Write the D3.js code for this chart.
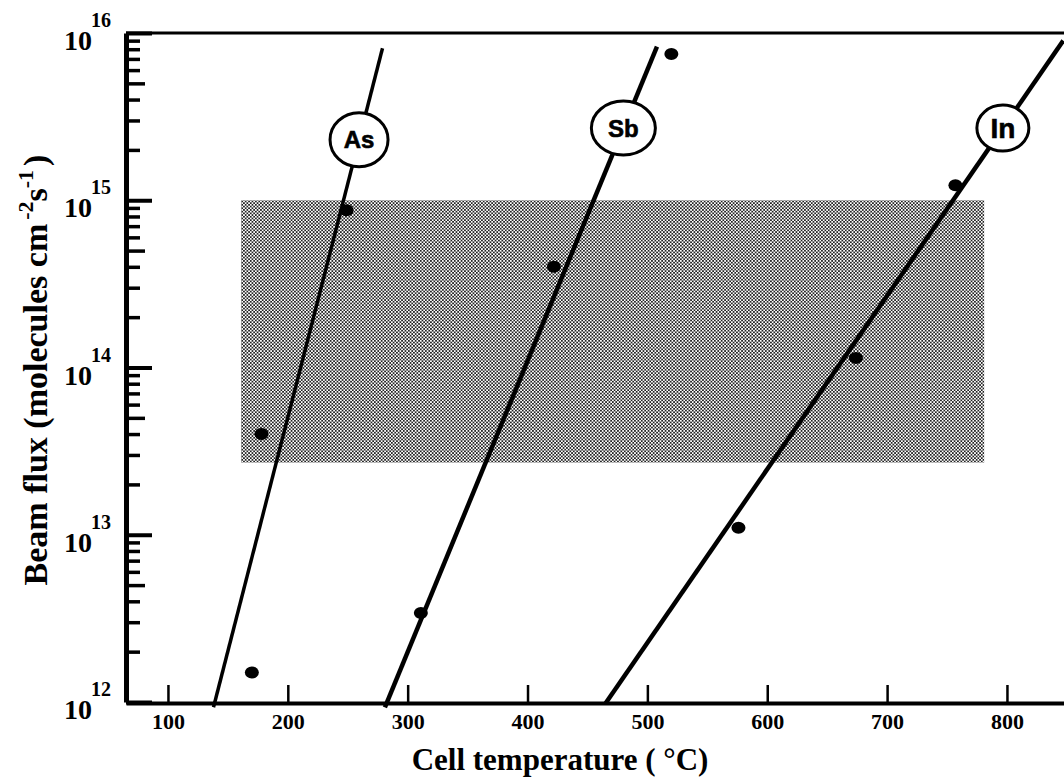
<!DOCTYPE html>
<html>
<head>
<meta charset="utf-8">
<script src="https://cdn.jsdelivr.net/npm/d3@7"></script>
<style>
  body { margin: 0; background: #fff; }
  .serif { font-family: "Liberation Serif", "Times New Roman", serif; font-weight: bold; }
  .tag { font-family: "Liberation Sans", Arial, sans-serif; font-weight: bold; }
</style>
</head>
<body>
<div id="chart"></div>
<script>
// axis ticks
var xTicks = [100, 200, 300, 400, 500, 600, 700, 800];
var yMajor = [1e12, 1e13, 1e14, 1e15, 1e16];

// measured points (cell temperature in C, beam flux)
var asPoints = [[170, 1.5e12], [178, 4.0e13], [249, 8.7e14]];
var sbPoints = [[311, 3.4e12], [422, 4.0e14], [520, 7.5e15]];
var inPoints = [[576, 1.1e13], [674, 1.14e14], [757, 1.23e15]];

// fitted lines, two end points each
var asFit = [[138, 9.3e11], [279, 8.1e15]];
var sbFit = [[281, 9.3e11], [508, 8.3e15]];
var inFit = [[465, 9.8e11], [847, 9.0e15]];

// element names and where their circled tag sits on the line (flux)
var elements = ["As", "Sb", "In"];
var tagFlux = [2.3e15, 2.7e15, 2.7e15];

// shaded working range
var rangeTemp = [161, 781];
var rangeFlux = [2.7e13, 1e15];

var width = 1064, height = 779;

var svg = d3.select('#chart').append('svg')
    .attr('width', width)
    .attr('height', height);

svg.append('defs')
   .append('pattern')
   .attr('id', 'dots')
   .attr('patternUnits', 'userSpaceOnUse')
   .attr('width', 3.4)
   .attr('height', 3.4)
   .selectAll('rect').data([[0, 0], [1.7, 1.7]])
   .enter().append('rect')
   .attr('x', function(d) { return d[0]; })
   .attr('y', function(d) { return d[1]; })
   .attr('width', 1.7)
   .attr('height', 1.7)
   .attr('fill', '#222');

var x = d3.scaleLinear().domain([65, 847.6]).range([126, 1064]);
var y = d3.scaleLog().domain([1e12, 1e16]).range([702, 33]);

// shaded box
svg.append('rect')
   .attr('x', x(rangeTemp[0]))
   .attr('y', y(rangeFlux[1]))
   .attr('width', x(rangeTemp[1]) - x(rangeTemp[0]))
   .attr('height', y(rangeFlux[0]) - y(rangeFlux[1]))
   .attr('fill', 'url(#dots)');

// top frame line
svg.append('line')
   .attr('x1', x.range()[0]).attr('x2', x.range()[1])
   .attr('y1', y(1e16)).attr('y2', y(1e16))
   .attr('stroke', 'black')
   .attr('stroke-width', 3);

// bottom axis, ticks pointing in
var xAxis = svg.append('g')
   .attr('transform', 'translate(0,' + 703 + ')')
   .call(d3.axisBottom(x).tickValues(xTicks).tickSize(-18).tickSizeOuter(0).tickPadding(10));
xAxis.select('.domain').attr('stroke-width', 4);
xAxis.selectAll('.tick line').attr('stroke-width', 2.5);
xAxis.selectAll('.tick text')
   .attr('class', 'serif')
   .style('font-size', '22px')
   .attr('fill', 'black');

// left axis: minor ticks first, then majors
var minor = [];
for (var e = 12; e < 16; e++) {
  for (var k = 2; k <= 9; k++) minor.push(k * Math.pow(10, e));
}
var yMinor = svg.append('g')
   .attr('transform', 'translate(126,0)')
   .call(d3.axisLeft(y).tickValues(minor).tickFormat('')
         .tickSize(-14).tickSizeOuter(0));
yMinor.selectAll('.tick line')
   .attr('x2', function(d) { return Math.round(d / Math.pow(10, Math.floor(Math.log10(d) + 1e-9))) === 5 ? 19 : 14; })
   .attr('stroke-width', 3.5);
yMinor.select('.domain').remove();

var yAxis = svg.append('g')
   .attr('transform', 'translate(126,0)')
   .call(d3.axisLeft(y).tickValues(yMajor).tickFormat('').tickSize(-26).tickSizeOuter(0));
yAxis.select('.domain').attr('stroke-width', 5);
yAxis.selectAll('.tick line').attr('stroke-width', 4);

// 10^n labels
var yLab = svg.append('g').selectAll('g').data(yMajor)
   .enter().append('g')
   .attr('transform', function(d) { return 'translate(92,' + y(d) + ')'; });
yLab.append('text')
   .attr('class', 'serif')
   .attr('text-anchor', 'end')
   .attr('y', 17)
   .style('font-size', '28px')
   .text('10');
yLab.append('text')
   .attr('class', 'serif')
   .attr('text-anchor', 'start')
   .attr('x', -1)
   .attr('y', -6)
   .style('font-size', '20px')
   .text(function(d) { return Math.round(Math.log10(d)); });

// fitted lines
var line = d3.line()
   .x(function(d) { return x(d[0]); })
   .y(function(d) { return y(d[1]); });
var fits = [asFit, sbFit, inFit];
svg.append('g').selectAll('path').data(fits)
   .enter().append('path')
   .attr('d', line)
   .attr('fill', 'none')
   .attr('stroke', 'black')
   .attr('stroke-width', function(d, i) { return i === 0 ? 3.5 : 4.5; });

// points
var pts = asPoints.concat(sbPoints, inPoints);
svg.append('g').selectAll('ellipse').data(pts)
   .enter().append('ellipse')
   .attr('cx', function(d) { return x(d[0]); })
   .attr('cy', function(d) { return y(d[1]); })
   .attr('rx', 7)
   .attr('ry', 6)
   .attr('fill', 'black');

// circled element tags, placed on their line
var tagData = elements.map(function(name, i) {
  var f = fits[i];
  var l0 = Math.log10(f[0][1]), l1 = Math.log10(f[1][1]);
  var t = f[0][0] + (Math.log10(tagFlux[i]) - l0) / (l1 - l0) * (f[1][0] - f[0][0]);
  return {name: name, t: t, flux: tagFlux[i]};
});
var tags = svg.append('g').selectAll('g').data(tagData)
   .enter().append('g')
   .attr('transform', function(d) { return 'translate(' + x(d.t) + ',' + y(d.flux) + ')'; });
tags.append('ellipse')
   .attr('rx', function(d) { return d.name === 'In' ? 26 : (d.name === 'Sb' ? 32 : 29); })
   .attr('ry', function(d) { return d.name === 'In' ? 23 : 27; })
   .attr('fill', 'white')
   .attr('stroke', 'black')
   .attr('stroke-width', 3);
tags.append('text')
   .attr('class', 'tag')
   .attr('text-anchor', 'middle')
   .attr('dy', '0.36em')
   .style('font-size', function(d) { return d.name === 'In' ? '28px' : '24px'; })
   .style('stroke', 'black')
   .style('stroke-width', 0.6)
   .text(function(d) { return d.name; });

// axis titles
svg.append('text')
   .attr('class', 'serif')
   .attr('x', 560)
   .attr('y', 770)
   .attr('text-anchor', 'middle')
   .style('font-size', '31px')
   .text('Cell temperature ( \u00B0C)');

var yTitle = svg.append('text')
   .attr('class', 'serif')
   .attr('transform', 'translate(47,370) rotate(-90)')
   .attr('text-anchor', 'middle')
   .style('font-size', '34px');
yTitle.append('tspan').text('Beam flux (molecules cm');
yTitle.append('tspan').attr('dy', -14).attr('dx', 4).style('font-size', '22px').text('-2');
yTitle.append('tspan').attr('dy', 14).text('s');
yTitle.append('tspan').attr('dy', -14).style('font-size', '22px').text('-1');
yTitle.append('tspan').attr('dy', 14).attr('dx', 4).text(')');
</script>
</body>
</html>
